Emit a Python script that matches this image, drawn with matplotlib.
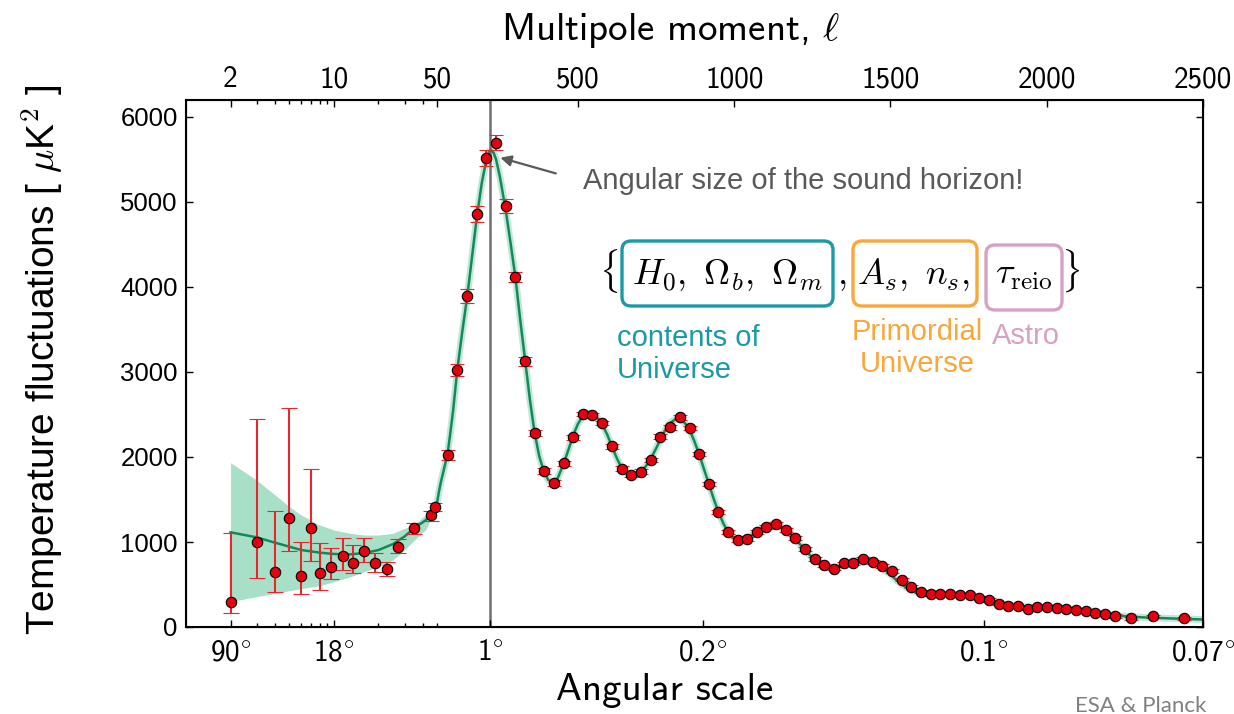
import numpy as np
import matplotlib
matplotlib.use("Agg")
import matplotlib.pyplot as plt
from matplotlib.patches import FancyBboxPatch
from matplotlib.transforms import IdentityTransform

plt.rcParams['mathtext.fontset'] = 'cm'
plt.rcParams['font.family'] = ['Liberation Sans', 'DejaVu Sans']

# low multipoles: D_ell with asymmetric errors
ell_low = [2, 3, 4, 5, 6, 7, 8, 9.5, 11.5, 13.5, 16, 19, 23, 27, 35, 45]
dl_low = [294, 1000, 647, 1282, 600, 1165, 635, 706, 835, 753, 894, 753, 682, 941, 1165, 1318]
err_low_minus = [129, 424, 235, 388, 212, 389, 200, 141, 164, 118, 129, 106, 82, 70, 71, 71]
err_low_plus = [812, 1447, 718, 1294, 400, 694, 353, 223, 212, 212, 153, 118, 83, 94, 59, 47]

# binned high multipoles
ell_high = [48, 83, 114, 146, 177, 207, 238, 269, 300, 331, 361, 391, 423, 454, 484,
            515, 546, 578, 609, 640, 670, 701, 733, 764, 795, 826, 857, 888, 919, 949,
            980, 1011, 1041, 1072, 1103, 1134, 1165, 1195, 1226, 1257, 1288, 1319, 1350,
            1381, 1412, 1443, 1474, 1505, 1536, 1567, 1598, 1629, 1660, 1691, 1722, 1753,
            1784, 1815, 1846, 1877, 1908, 1939, 1970, 2001, 2032, 2063, 2094, 2125, 2156,
            2187, 2220, 2270, 2340, 2440]
dl_high = [1412, 2020, 3027, 3894, 4862, 5518, 5698, 4949, 4118, 3126, 2284, 1839, 1694,
           1927, 2231, 2506, 2490, 2400, 2126, 1863, 1792, 1827, 1965, 2239, 2349, 2467,
           2341, 2035, 1682, 1357, 1114, 1020, 1039, 1121, 1173, 1208, 1145, 1043, 914,
           796, 725, 688, 748, 752, 800, 766, 717, 659, 557, 474, 416, 388, 384, 384, 380,
           372, 345, 321, 274, 247, 243, 216, 235, 235, 223, 216, 204, 188, 169, 149, 129,
           102, 125, 102]
err_high = [45, 58, 72, 85, 95, 98, 92, 82, 55, 52, 38, 35, 30, 30, 30, 28, 28, 28, 27, 27,
            27, 27, 27, 27, 27, 27, 26, 26, 26, 25, 25, 24, 24, 24, 24, 24, 23, 23, 23, 22,
            22, 22, 22, 22, 22, 22, 22, 22, 21, 21, 21, 21, 21, 21, 21, 21, 21, 21, 20, 20,
            20, 20, 20, 20, 20, 20, 20, 20, 20, 20, 20, 20, 20, 20]

# best-fit model spectrum
model_ell = [2, 3, 4, 5, 6, 8, 10, 13, 16, 20, 25, 30, 35, 42, 45, 50, 55, 61, 70, 83,
             100, 114, 130, 146, 162, 177, 192, 207, 215, 222, 230, 238, 250, 269, 285,
             300, 315, 331, 346, 361, 376, 391, 405, 420, 435, 454, 470, 484, 500, 515,
             530, 546, 562, 578, 594, 609, 625, 640, 655, 670, 685, 701, 717, 733, 750,
             764, 780, 795, 810, 826, 842, 857, 872, 888, 903, 919, 935, 949, 965, 980,
             995, 1011, 1026, 1041, 1057, 1072, 1088, 1103, 1120, 1134, 1150, 1165, 1180,
             1195, 1210, 1226, 1241, 1257, 1272, 1288, 1304, 1319, 1335, 1350, 1366, 1381,
             1397, 1412, 1428, 1443, 1459, 1474, 1490, 1505, 1521, 1536, 1552, 1567, 1583,
             1598, 1629, 1660, 1691, 1722, 1753, 1784, 1815, 1846, 1877, 1908, 1939, 1970,
             2001, 2032, 2063, 2094, 2125, 2156, 2187, 2220, 2270, 2340, 2440, 2500]
model_dl = [1114, 1055, 992, 945, 906, 875, 859, 855, 870, 905, 975, 1065, 1165, 1260, 1350,
            1480, 1590, 1700, 1840, 2040, 2530, 3030, 3480, 3900, 4380, 4840, 5220, 5500,
            5590, 5610, 5580, 5500, 5300, 4900, 4500, 4110, 3620, 3130, 2680, 2290, 2010,
            1830, 1730, 1690, 1750, 1920, 2090, 2250, 2390, 2480, 2520, 2510, 2460, 2380,
            2260, 2120, 1980, 1870, 1810, 1785, 1790, 1830, 1890, 1980, 2100, 2210, 2320,
            2400, 2440, 2440, 2400, 2320, 2190, 2030, 1860, 1680, 1500, 1360, 1220, 1120,
            1060, 1030, 1030, 1045, 1080, 1120, 1160, 1190, 1205, 1200, 1180, 1140, 1095,
            1040, 975, 910, 850, 795, 755, 725, 705, 700, 710, 730, 755, 775, 790, 795, 790,
            770, 740, 700, 650, 600, 545, 500, 460, 430, 410, 398, 388, 385, 382, 375, 362,
            342, 315, 287, 262, 245, 236, 232, 228, 222, 212, 200, 185, 168, 152, 137, 120,
            108, 95, 88]

# cosmic variance band at large scales
band_ell = [2, 3, 4, 5, 6, 8, 10, 13, 16, 20, 25, 30, 35, 42, 45, 50]
band_hi = [1933, 1729, 1553, 1416, 1318, 1200, 1141, 1102, 1082, 1082, 1102, 1161, 1200,
           1330, 1420, 1580]
band_lo = [298, 357, 396, 427, 451, 486, 533, 592, 651, 710, 788, 906, 1024, 1150, 1265,
           1420]

top_ticks = [2, 10, 50, 500, 1000, 1500, 2000, 2500]
bottom_ticks = [2, 10, 220, 900, 1800, 2500]
bottom_labels = ['90', '18', '1', '0.2', '0.1', '0.07']
minor_ticks = [3, 4, 5, 6, 7, 8, 9, 20, 30, 40]

LIN = 0.0021125  # decades per multipole in the linear part


def fwd(l):
    l = np.asarray(l, dtype=float)
    lg = np.log10(np.clip(l, 1e-3, None))
    return np.where(l <= 50, lg, np.log10(50) + (l - 50) * LIN)


def inv(u):
    u = np.asarray(u, dtype=float)
    return np.where(u <= np.log10(50), 10 ** np.clip(u, -3, 5),
                    50 + (u - np.log10(50)) / LIN)


SANS = ['cmss10', 'DejaVu Sans']

W, H = 1234, 714
fig = plt.figure(figsize=(W / 100, H / 100), dpi=100)
ax = fig.add_axes([186 / W, 1 - 627 / H, (1203 - 186) / W, (627 - 100) / H])
ax.set_xscale('function', functions=(fwd, inv))
ax.set_xlim(1, 2500)
ax.set_ylim(0, 6200)

green_light = '#a7e0c7'
ax.fill_between(band_ell, band_lo, band_hi, color=green_light, lw=0, zorder=1)
m_ell = np.array(model_ell)
m_dl = np.array(model_dl)
ax.plot(m_ell[m_ell >= 50], m_dl[m_ell >= 50], color='#bfe9d6', lw=5,
        solid_capstyle='round', zorder=1)
ax.axvline(220, color='#6e6e6e', lw=1.8, zorder=1.5)
ax.plot(m_ell, m_dl, color='#14885a', lw=1.8, zorder=2)

ax.errorbar(ell_low, dl_low, yerr=[err_low_minus, err_low_plus], fmt='o', ms=7.5,
            mfc='#e3000f', mec='black', mew=0.8, ecolor='#e8262e', elinewidth=1.5,
            capsize=5.5, capthick=1.3, zorder=3)
ax.errorbar(ell_high, dl_high, yerr=err_high, fmt='o', ms=7.5,
            mfc='#e3000f', mec='black', mew=0.8, ecolor='#e8262e', elinewidth=1.5,
            capsize=5, capthick=1.3, zorder=3)

for s in ax.spines.values():
    s.set_linewidth(1.5)

ax.set_yticks([0, 1000, 2000, 3000, 4000, 5000, 6000])
ax.tick_params(axis='y', which='both', direction='in', length=5, width=1,
               right=True, labelsize=18.5, pad=6)

ax.set_xticks(bottom_ticks)
ax.set_xticklabels([r'%s$^{\circ}$' % t for t in bottom_labels], family=SANS)
ax.set_xticks(minor_ticks + [50], minor=True)
ax.tick_params(axis='x', which='major', direction='in', length=5, width=1,
               labelsize=21, pad=9)
ax.tick_params(axis='x', which='minor', direction='in', length=3, width=1)

# multipole axis along the top
ax2 = ax.twiny()
ax2.set_xscale('function', functions=(fwd, inv))
ax2.set_xlim(ax.get_xlim())
ax2.set_xticks(top_ticks)
ax2.set_xticklabels([str(t) for t in top_ticks], family=SANS)
ax2.set_xticks(minor_ticks, minor=True)
ax2.tick_params(axis='x', which='major', direction='in', length=5, width=1,
                labelsize=21, pad=5)
ax2.tick_params(axis='x', which='minor', direction='in', length=3, width=1)
ax2.xaxis.set_minor_formatter(plt.NullFormatter())

fig.text(671 / W, 1 - 30 / H, r'Multipole moment, $\ell$', fontsize=28, family=SANS,
         ha='center', va='center')
fig.text(665 / W, 1 - 690 / H, 'Angular scale', fontsize=28, family=SANS,
         ha='center', va='center')
fig.text(42 / W, 1 - 360 / H, r'Temperature fluctuations [ $\mu$K$^2$ ]', fontsize=28,
         rotation=90, ha='center', va='center')

ax.annotate('Angular size of the sound horizon!', xy=(243, 5530), xytext=(515, 5247),
            fontsize=21, color='#595959', ha='left', va='center',
            arrowprops=dict(arrowstyle='-|>', color='#595959', lw=1.6,
                            mutation_scale=16, relpos=(0, 0.5), shrinkA=18, shrinkB=2))


def fx(x):
    return x / W


def fy(y):
    return 1 - y / H


teal, orange, pink = '#1a99a6', '#f9a63b', '#d6a1c2'
for (x0, x1, y0, y1, c) in [(622, 833, 241, 306, teal), (853, 977, 241, 306, orange),
                            (986, 1062, 245, 310, pink)]:
    fig.add_artist(FancyBboxPatch((x0, H - y1), x1 - x0, y1 - y0,
                                  boxstyle='round,pad=0,rounding_size=9',
                                  transform=IdentityTransform(), fc='none', ec=c, lw=2.4))

eq_size = 26
base = fy(284)
fig.text(fx(609), base, r'$\{$', fontsize=eq_size, ha='center', va='baseline')
fig.text(fx(727), base, r'$H_0,\ \Omega_b,\ \Omega_m$', fontsize=eq_size, ha='center',
         va='baseline')
fig.text(fx(842), base, r'$,$', fontsize=eq_size, ha='center', va='baseline')
fig.text(fx(914), base, r'$A_s,\ n_s,$', fontsize=eq_size, ha='center', va='baseline')
fig.text(fx(1024), base, r'$\tau_{\rm reio}$', fontsize=eq_size, ha='center',
         va='baseline')
fig.text(fx(1071), base, r'$\}$', fontsize=eq_size, ha='center', va='baseline')

fig.text(fx(617), fy(354), 'contents of\nUniverse', fontsize=21, color=teal,
         ha='left', va='center', linespacing=1.2)
fig.text(fx(917), fy(348), 'Primordial\nUniverse', fontsize=21, color=orange,
         ha='center', va='center', linespacing=1.2)
fig.text(fx(1026), fy(336), 'Astro', fontsize=21, color=pink, ha='center', va='center')

fig.text(fx(1075), fy(712), 'ESA & Planck', fontsize=16, color='#808080',
         family=['Lato', 'DejaVu Sans'], ha='left', va='baseline')

fig.savefig('out.png', dpi=100)
